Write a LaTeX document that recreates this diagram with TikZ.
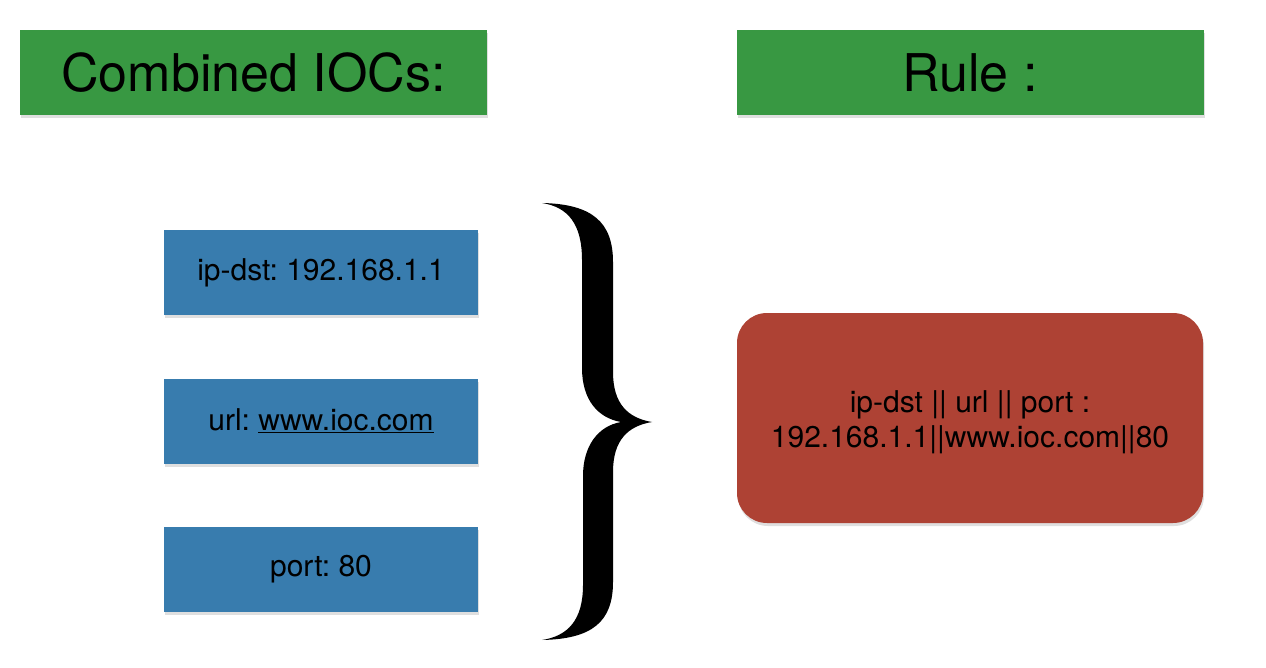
\documentclass[tikz,border=0pt]{standalone}
\usepackage{fontspec}
\setmainfont{TeX Gyre Heros}
\frenchspacing
\usetikzlibrary{shadows}
\definecolor{tgreen}{RGB}{56,152,66}
\definecolor{tblue}{RGB}{56,124,174}
\definecolor{tred}{RGB}{174,66,52}
\tikzset{
  boxbase/.style={draw=none, inner sep=0pt, align=center, text=black,
    drop shadow={shadow xshift=1pt, shadow yshift=-3pt, opacity=0.25}},
  titlebox/.style={boxbase, fill=tgreen, minimum width=467pt, minimum height=85pt,
    font=\fontsize{52}{60}\selectfont},
  iocbox/.style={boxbase, fill=tblue, minimum width=314pt, minimum height=85pt,
    font=\fontsize{30}{34}\selectfont},
  rulebox/.style={boxbase, fill=tred, rounded corners=30pt, minimum width=466pt, minimum height=210pt,
    font=\fontsize{30}{35}\selectfont},
}
\begin{document}
\begin{tikzpicture}[x=1pt,y=-1pt]
\useasboundingbox (0,0) rectangle (1266,668);
\node[titlebox] (t1) at (253.5,72.5) {Combined IOCs:};
\node[titlebox] (t2) at (970,72.5) {Rule :};
\node[iocbox] (ip) at (321,272.5) {ip-dst: 192.168.1.1};
\node[iocbox] (url) at (321,421) {url: \underline{www.ioc.com}};
\node[iocbox] (port) at (321,569) {port: 80};
\node[rulebox] (rule) at (970,418) {\rule{0pt}{30pt}ip-dst || url || port :\\192.168.1.1||www.ioc.com||80};
% brace
\fill[black] (542,203)
  .. controls (592,204) and (613,222) .. (613,262)
  -- (613,372)
  .. controls (613,404) and (628,418) .. (652,422)
  .. controls (628,426) and (613,440) .. (613,472)
  -- (613,582)
  .. controls (613,622) and (592,639) .. (542,640)
  .. controls (568,636) and (583,620) .. (583,585)
  -- (583,476)
  .. controls (583,446) and (598,426) .. (621,422)
  .. controls (598,418) and (582,400) .. (582,368)
  -- (582,260)
  .. controls (582,224) and (568,207) .. (542,203) -- cycle;
\end{tikzpicture}
\end{document}
